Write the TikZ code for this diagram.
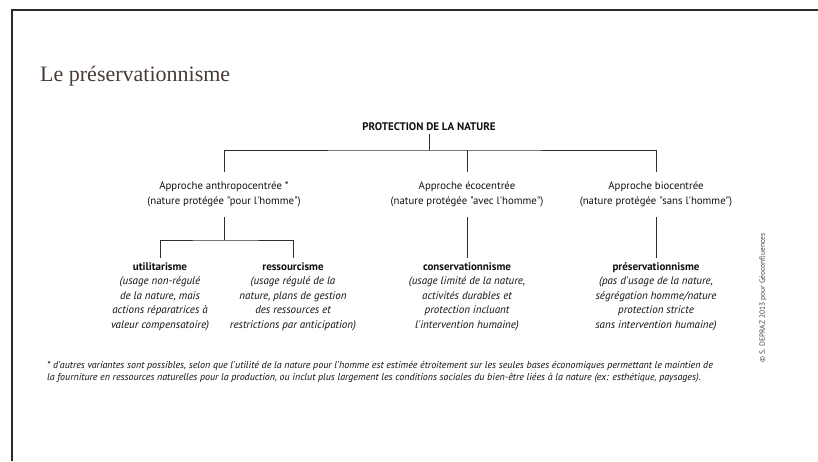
\documentclass[tikz,border=0pt]{standalone}
\usepackage{fontspec}
\setmainfont{Liberation Serif}
\newfontfamily\mysans[Ligatures=TeXOff]{PT Sans}
\definecolor{titlebrown}{HTML}{4B3B32}
\definecolor{ink}{HTML}{111111}
\definecolor{linegray}{HTML}{2E2E2E}
\definecolor{framegray}{HTML}{2A2A2A}
\definecolor{copygray}{HTML}{444444}
\begin{document}
\begin{tikzpicture}[x=1pt,y=-1pt,
  frame/.style={draw=framegray,line width=1.3pt},
  conn/.style={draw=linegray,line width=0.9pt},
  titletext/.style={anchor=base west,inner sep=0pt,text=titlebrown,font=\fontsize{22}{26}\selectfont},
  roottext/.style={inner sep=3pt,text=ink,font=\mysans\bfseries\fontsize{11}{13}\selectfont},
  apprbox/.style={anchor=north,inner xsep=2pt,inner ysep=10pt,align=center,text=ink,font=\mysans\fontsize{10.8}{14.5}\selectfont},
  leafbox/.style={anchor=north,inner xsep=2pt,inner ysep=4pt,align=center,text=ink,font=\mysans\fontsize{11}{14.5}\selectfont},
  foot/.style={anchor=north west,inner sep=0pt,align=left,text=ink,font=\mysans\itshape\fontsize{10}{12}\selectfont},
  copytext/.style={rotate=90,inner sep=0pt,text=copygray,font=\mysans\fontsize{7.5}{9}\selectfont}
]
\useasboundingbox (0,0) rectangle (818,461);
\draw[frame] (12,461) -- (12,10) -- (818,10);

\node[titletext] (title) at (40,81) {Le préservationnisme};

\node[roottext] (root) at (429,127) {PROTECTION DE LA NATURE};

\node[apprbox] (anthro) at (224,172) {Approche anthropocentrée *\\(nature protégée "pour l'homme")};
\node[apprbox] (eco) at (467,172) {Approche écocentrée\\(nature protégée "avec l'homme")};
\node[apprbox] (bio) at (656,172) {Approche biocentrée\\(nature protégée "sans l'homme")};

\node[leafbox] (util) at (160,258) {\textbf{utilitarisme}\\\itshape (usage non-régulé\\\itshape de la nature, mais\\\itshape actions réparatrices à\\\itshape valeur compensatoire)};
\node[leafbox] (ress) at (293,258) {\textbf{ressourcisme}\\\itshape (usage régulé de la\\\itshape nature, plans de gestion\\\itshape des ressources et\\\itshape restrictions par anticipation)};
\node[leafbox] (cons) at (467,258) {\textbf{conservationnisme}\\\itshape (usage limité de la nature,\\\itshape activités durables et\\\itshape protection incluant\\\itshape l'intervention humaine)};
\node[leafbox] (pres) at (656,258) {\textbf{préservationnisme}\\\itshape (pas d'usage de la nature,\\\itshape ségrégation homme/nature\\\itshape protection stricte\\\itshape sans intervention humaine)};

\node[foot] (note) at (47,361) {* d'autres variantes sont possibles, selon que l'utilité de la nature pour l'homme est estimée étroitement sur les seules bases économiques permettant le maintien de\\la fourniture en ressources naturelles pour la production, ou inclut plus largement les conditions sociales du bien-être liées à la nature (ex: esthétique, paysages).};

\node[copytext] (copy) at (763,298) {© S. DEPRAZ 2013 pour Géoconfluences};

\coordinate (j0) at (429,150);
\coordinate (j1) at (224,240);
\draw[conn] (root.south) -- (j0);
\draw[conn] (anthro.north) |- (j0) -| (bio.north);
\draw[conn] (eco.north) -- (eco.north |- j0);
\draw[conn] (anthro.south) -- (j1);
\draw[conn] (util.north) |- (j1) -| (ress.north);
\draw[conn] (eco.south) -- (cons.north);
\draw[conn] (bio.south) -- (pres.north);
\end{tikzpicture}
\end{document}
